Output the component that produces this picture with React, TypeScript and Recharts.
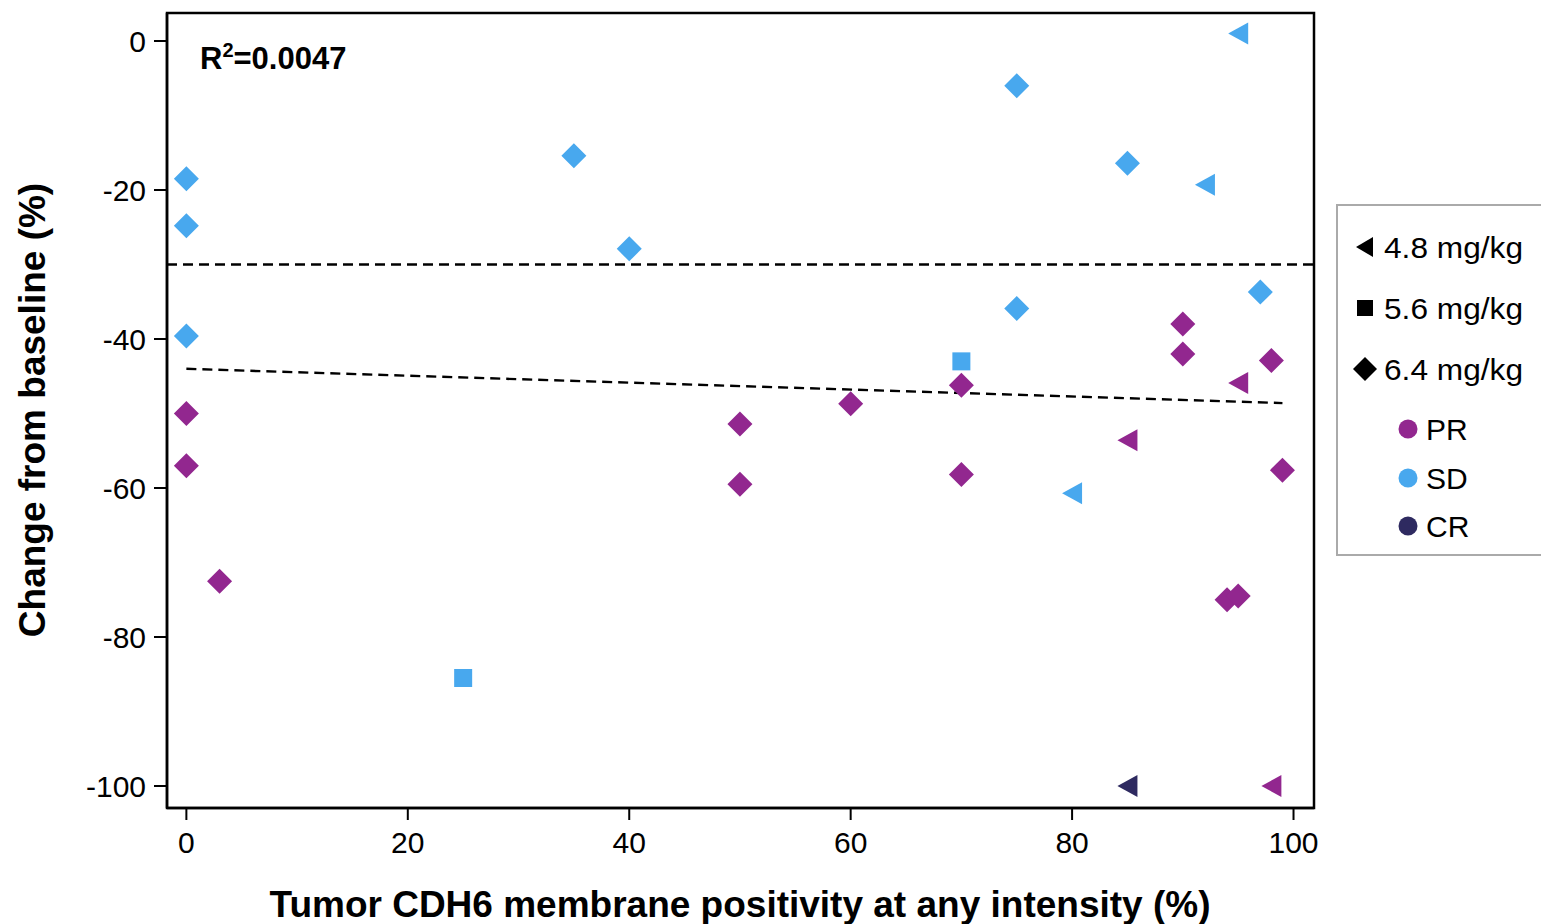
import React from "react"
import {
  ScatterChart,
  Scatter,
  XAxis,
  YAxis,
  ReferenceLine,
  ReferenceArea,
  Label,
} from "recharts"

const FONT = '"Liberation Sans", Arial, Helvetica, sans-serif'

const PURPLE = "#92278f"
const BLUE = "#48a8ee"
const NAVY = "#2e2a60"

// x = CDH6 membrane positivity (%), y = change from baseline (%)
const sd64 = [
  { x: 0, y: -18.5 },
  { x: 0, y: -24.8 },
  { x: 0, y: -39.6 },
  { x: 35, y: -15.4 },
  { x: 40, y: -27.9 },
  { x: 75, y: -6 },
  { x: 75, y: -35.9 },
  { x: 85, y: -16.4 },
  { x: 97, y: -33.7 },
]
const sd48 = [
  { x: 95, y: 1 },
  { x: 92, y: -19.3 },
  { x: 80, y: -60.7 },
]
const sd56 = [
  { x: 25, y: -85.5 },
  { x: 70, y: -43 },
]
const pr64 = [
  { x: 0, y: -50 },
  { x: 0, y: -57 },
  { x: 3, y: -72.5 },
  { x: 50, y: -51.4 },
  { x: 50, y: -59.5 },
  { x: 60, y: -48.7 },
  { x: 70, y: -46.2 },
  { x: 70, y: -58.2 },
  { x: 90, y: -38 },
  { x: 90, y: -42 },
  { x: 98, y: -42.9 },
  { x: 99, y: -57.6 },
  { x: 94, y: -75 },
  { x: 95, y: -74.5 },
]
const pr48 = [
  { x: 95, y: -45.9 },
  { x: 85, y: -53.6 },
  { x: 98, y: -100 },
]
const cr48 = [{ x: 85, y: -100 }]

const fitLine = [
  { x: 0, y: -44 },
  { x: 99, y: -48.6 },
]
const threshold = -30

const xTicks = [0, 20, 40, 60, 80, 100]
const yTicks = [0, -20, -40, -60, -80, -100]
const xDomain: [number, number] = [-1.75, 101.85]
const yDomain: [number, number] = [-102.95, 3.76]

const doseLegend = ["4.8 mg/kg", "5.6 mg/kg", "6.4 mg/kg"]
const responseLegend = [
  { name: "PR", color: PURPLE },
  { name: "SD", color: BLUE },
  { name: "CR", color: NAVY },
]

// eslint-disable-next-line @typescript-eslint/no-explicit-any
const diamond = (color: string) => (p: any) => (
  <path
    d={`M${p.cx},${p.cy - 12.5}L${p.cx + 12.5},${p.cy}L${p.cx},${p.cy + 12.5}L${p.cx - 12.5},${p.cy}Z`}
    fill={color}
  />
)
// eslint-disable-next-line @typescript-eslint/no-explicit-any
const square = (color: string) => (p: any) => (
  <rect x={p.cx - 9} y={p.cy - 9} width={18} height={18} fill={color} />
)
// eslint-disable-next-line @typescript-eslint/no-explicit-any
const triangle = (color: string) => (p: any) => (
  <path
    d={`M${p.cx - 10},${p.cy}L${p.cx + 10},${p.cy - 11}L${p.cx + 10},${p.cy + 11}Z`}
    fill={color}
  />
)

const tickStyle = { fill: "#000", fontSize: 30, fontFamily: FONT }

function Legend() {
  const rows = [247, 308, 369]
  const resp = [429, 478, 526]
  return (
    <svg
      width={1541}
      height={924}
      style={{ position: "absolute", left: 0, top: 0, pointerEvents: "none" }}
    >
      <text x={200} y={69} fontFamily={FONT} fontWeight="bold" fontSize={31} fill="#000">
        R<tspan fontSize={20} dy={-12}>2</tspan>
        <tspan dy={12}>=0.0047</tspan>
      </text>
      <rect x={1337} y={205} width={260} height={350} fill="#fff" stroke="#aaa" strokeWidth={2} />
      <path d={`M1356,${rows[0]}L1373,${rows[0] - 10}L1373,${rows[0] + 10}Z`} fill="#000" />
      <rect x={1357} y={rows[1] - 8} width={16} height={16} fill="#000" />
      <path
        d={`M1365,${rows[2] - 12}L1377,${rows[2]}L1365,${rows[2] + 12}L1353,${rows[2]}Z`}
        fill="#000"
      />
      {doseLegend.map((d, i) => (
        <text
          key={d}
          x={1384}
          y={rows[i] + 11}
          fontFamily={FONT}
          fontSize={30}
          fill="#000"
          textLength={139}
          lengthAdjust="spacingAndGlyphs"
        >
          {d}
        </text>
      ))}
      {responseLegend.map((r, i) => (
        <g key={r.name}>
          <circle cx={1408} cy={resp[i]} r={9.5} fill={r.color} />
          <text x={1426} y={resp[i] + 11} fontFamily={FONT} fontSize={30} fill="#000">
            {r.name}
          </text>
        </g>
      ))}
    </svg>
  )
}

export default function App() {
  return (
    <div
      style={{
        position: "absolute",
        left: 0,
        top: 0,
        width: 1541,
        height: 924,
        overflow: "hidden",
        background: "#fff",
        fontFamily: FONT,
      }}
    >
      <ScatterChart width={1541} height={924} margin={{ top: 13, right: 227, bottom: 0, left: 0 }}>
        <XAxis
          type="number"
          dataKey="x"
          domain={xDomain}
          ticks={xTicks}
          allowDataOverflow
          height={116}
          tickSize={12}
          tickMargin={12}
          tick={tickStyle}
          axisLine={{ stroke: "#000", strokeWidth: 2.5 }}
          tickLine={{ stroke: "#000", strokeWidth: 2 }}
        >
          <Label
            content={() => (
              <text
                x={740}
                y={917}
                textAnchor="middle"
                fontFamily={FONT}
                fontWeight="bold"
                fontSize={37}
                fill="#000"
              >
                Tumor CDH6 membrane positivity at any intensity (%)
              </text>
            )}
          />
        </XAxis>
        <YAxis
          type="number"
          dataKey="y"
          domain={yDomain}
          ticks={yTicks}
          allowDataOverflow
          width={167}
          tickSize={13}
          tickMargin={8}
          tick={tickStyle}
          axisLine={{ stroke: "#000", strokeWidth: 2.5 }}
          tickLine={{ stroke: "#000", strokeWidth: 2 }}
        >
          <Label
            content={() => (
              <text
                x={45}
                y={410}
                transform="rotate(-90, 45, 410)"
                textAnchor="middle"
                fontFamily={FONT}
                fontWeight="bold"
                fontSize={37}
                fill="#000"
              >
                Change from baseline (%)
              </text>
            )}
          />
        </YAxis>
        <ReferenceArea
          x1={xDomain[0]}
          x2={xDomain[1]}
          y1={yDomain[0]}
          y2={yDomain[1]}
          fill="none"
          stroke="#000"
          strokeWidth={2.5}
          fillOpacity={0}
        />
        <ReferenceLine y={threshold} stroke="#000" strokeWidth={2.4} strokeDasharray="10 6" />
        <ReferenceLine
          segment={fitLine}
          stroke="#000"
          strokeWidth={2.4}
          strokeDasharray="10 6"
        />
        <Scatter data={sd64} shape={diamond(BLUE)} isAnimationActive={false} />
        <Scatter data={sd48} shape={triangle(BLUE)} isAnimationActive={false} />
        <Scatter data={sd56} shape={square(BLUE)} isAnimationActive={false} />
        <Scatter data={pr64} shape={diamond(PURPLE)} isAnimationActive={false} />
        <Scatter data={pr48} shape={triangle(PURPLE)} isAnimationActive={false} />
        <Scatter data={cr48} shape={triangle(NAVY)} isAnimationActive={false} />
      </ScatterChart>
      <Legend />
    </div>
  )
}
